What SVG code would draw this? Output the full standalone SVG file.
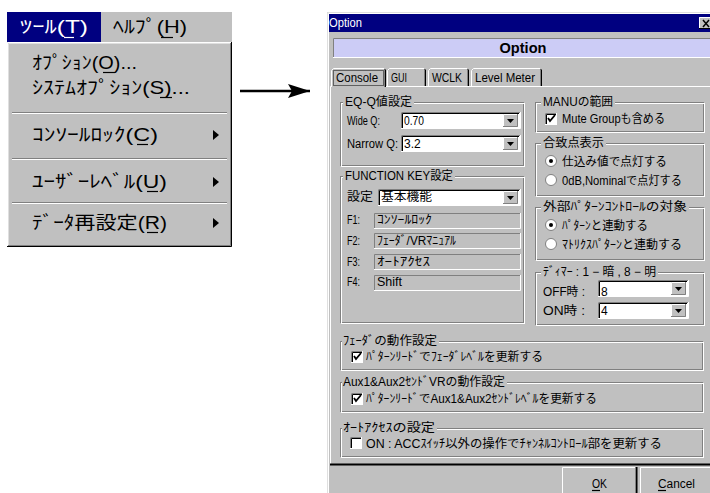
<svg xmlns="http://www.w3.org/2000/svg" width="710" height="493" viewBox="0 0 710 493">
<defs>
<style>
.t{font-family:"Liberation Sans","Noto Sans CJK JP",sans-serif;font-size:12px;fill:#000}
.m{font-family:"Liberation Sans","Noto Sans CJK JP",sans-serif;font-size:18px;fill:#000}
.g{fill:#c0c0c0}
.dk{stroke:#808080;fill:none}
.wh{stroke:#fff;fill:none}
.bk{stroke:#000;fill:none}
.ul{stroke:#000;stroke-width:1.2;fill:none}
</style>
<marker id="ah" markerWidth="24" markerHeight="16" refX="22" refY="7" orient="auto" markerUnits="userSpaceOnUse">
<path d="M0,0 L22,7 L0,14 L4,7 Z" fill="#000"/>
</marker>
</defs>
<rect width="710" height="493" fill="#fff"/>

<g id="menu">
<rect x="7" y="12" width="225" height="30" fill="#c0c0c0"/>
<rect x="7" y="12" width="94" height="30" fill="#000080"/>
<text class="m" x="20" y="33" style="fill:#fff" textLength="68" lengthAdjust="spacingAndGlyphs">ﾂｰﾙ(T)</text>
<path d="M64,37.5 H74" stroke="#fff" stroke-width="1.2"/>
<text class="m" x="113" y="33" textLength="74" lengthAdjust="spacingAndGlyphs">ﾍﾙﾌﾟ(H)</text>
<path d="M161,37.5 H173" class="ul"/>
<rect x="7" y="42" width="225" height="205" fill="#c0c0c0"/>
<path d="M7.5,246 V42.5 H231" class="wh"/>
<path d="M8.5,245 V43.5 H230" stroke="#dfdfdf" fill="none"/>
<path d="M230.5,43 V245.5 H8" class="dk"/>
<path d="M231.5,42 V246.5 H7" class="bk"/>
<text class="m" x="32" y="69" textLength="105" lengthAdjust="spacingAndGlyphs">ｵﾌﾟｼｮﾝ(O)...</text>
<path d="M103,72.5 H115" class="ul"/>
<text class="m" x="32" y="94" textLength="158" lengthAdjust="spacingAndGlyphs">ｼｽﾃﾑｵﾌﾟｼｮﾝ(S)...</text>
<path d="M160,97.5 H172" class="ul"/>
<path d="M12,112.5 H227" class="dk"/><path d="M12,113.5 H227" class="wh"/>
<text class="m" x="32" y="141" textLength="126" lengthAdjust="spacingAndGlyphs">ｺﾝｿｰﾙﾛｯｸ(C)</text>
<path d="M137,144.5 H148" class="ul"/>
<path d="M213,130 L219,135 L213,140 Z" fill="#000"/>
<path d="M12,158.5 H227" class="dk"/><path d="M12,159.5 H227" class="wh"/>
<text class="m" x="32" y="188" textLength="135" lengthAdjust="spacingAndGlyphs">ﾕｰｻﾞｰﾚﾍﾞﾙ(U)</text>
<path d="M147,191.5 H158" class="ul"/>
<path d="M213,177 L219,182 L213,187 Z" fill="#000"/>
<path d="M12,202.5 H227" class="dk"/><path d="M12,203.5 H227" class="wh"/>
<text class="m" x="32" y="229" textLength="135" lengthAdjust="spacingAndGlyphs">ﾃﾞｰﾀ再設定(R)</text>
<path d="M147,232.5 H158" class="ul"/>
<path d="M213,218 L219,223 L213,228 Z" fill="#000"/>
</g>

<g id="connectors">
<path d="M240,91 H310" stroke="#000" stroke-width="2.5" fill="none" marker-end="url(#ah)"/>
</g>

<g id="dialog">
<rect x="327" y="12" width="390" height="490" fill="#c0c0c0"/>
<path d="M327.5,493 V12.5 H710" stroke="#dfdfdf" fill="none"/>
<path d="M328.5,493 V13.5 H710" class="wh"/>
<rect x="329" y="14" width="381" height="18" fill="#000080"/>
<text class="t" x="329" y="27" style="fill:#fff;font-size:13px" textLength="33" lengthAdjust="spacingAndGlyphs">Option</text>
<rect x="699" y="17" width="14" height="12" fill="#c0c0c0"/>
<path d="M699.5,29 V17.5 H712" class="wh"/>
<path d="M699,28.5 H712" class="bk"/>
<path d="M703,20 L709,27 M709,20 L703,27" stroke="#000" stroke-width="1.5"/>

<rect x="333" y="38" width="380" height="19" fill="#ccccf6"/>
<path d="M333.5,57 V38.5 H710" class="dk"/>
<path d="M333,57.5 H710" class="wh"/>
<text class="t" x="523" y="53" text-anchor="middle" style="font-weight:bold;font-size:15px" textLength="47" lengthAdjust="spacingAndGlyphs">Option</text>

<path d="M330.5,465 V86.5 H331 M386,86.5 H710" class="wh"/>
<path d="M330,464.5 H710" stroke="#000" stroke-width="2"/>
<path d="M331.5,87 V70.5 L333.5,68.5 H384" class="wh"/>
<path d="M384.5,69 L385.5,70 V87" class="bk"/>
<path d="M384.5,70 V87" class="dk"/>
<rect x="333.5" y="70.5" width="50" height="15" fill="none" stroke="#000" stroke-dasharray="1,1"/>
<text class="t" x="336" y="82" textLength="42" lengthAdjust="spacingAndGlyphs">Console</text>
<path d="M387.5,86 V70.5 L389.5,68.5 H424" class="wh"/>
<path d="M424.5,69 L425.5,70 V86" class="bk"/><path d="M424.5,70 V86" class="dk"/>
<text class="t" x="391" y="82" textLength="16" lengthAdjust="spacingAndGlyphs">GUI</text>
<path d="M428.5,86 V70.5 L430.5,68.5 H467" class="wh"/>
<path d="M467.5,69 L468.5,70 V86" class="bk"/><path d="M467.5,70 V86" class="dk"/>
<text class="t" x="432" y="82" textLength="30" lengthAdjust="spacingAndGlyphs">WCLK</text>
<path d="M471.5,86 V70.5 L473.5,68.5 H540" class="wh"/>
<path d="M540.5,69 L541.5,70 V86" class="bk"/><path d="M540.5,70 V86" class="dk"/>
<text class="t" x="475" y="82" textLength="60" lengthAdjust="spacingAndGlyphs">Level Meter</text>

<g id="eq">
<rect x="340.5" y="102.5" width="183" height="63" class="dk"/>
<rect x="341.5" y="103.5" width="183" height="63" class="wh"/>
<rect x="343" y="96" width="71" height="12" class="g"/>
<text class="t" x="345" y="106" textLength="67" lengthAdjust="spacingAndGlyphs">EQ-Q値設定</text>
<text class="t" x="347" y="125" textLength="33" lengthAdjust="spacingAndGlyphs">Wide Q:</text>
<rect x="401" y="112" width="119" height="17" fill="#fff"/>
<path d="M401.5,129 V112.5 H520" class="dk"/><path d="M402.5,128 V113.5 H519" class="bk"/>
<path d="M401,128.5 H520.5 V112" class="wh"/>
<rect x="503" y="114" width="15" height="13" class="g"/>
<path d="M503.5,127 V114.5 H518" class="wh"/><path d="M503,126.5 H517.5 V114" class="dk"/>
<path d="M507,119 H514 L510.5,123 Z" fill="#000"/>
<text class="t" x="404" y="125" textLength="20" lengthAdjust="spacingAndGlyphs">0.70</text>
<text class="t" x="347" y="148" textLength="51" lengthAdjust="spacingAndGlyphs">Narrow Q:</text>
<rect x="401" y="135" width="119" height="17" fill="#fff"/>
<path d="M401.5,152 V135.5 H520" class="dk"/><path d="M402.5,151 V136.5 H519" class="bk"/>
<path d="M401,151.5 H520.5 V135" class="wh"/>
<rect x="503" y="137" width="15" height="13" class="g"/>
<path d="M503.5,150 V137.5 H518" class="wh"/><path d="M503,149.5 H517.5 V137" class="dk"/>
<path d="M507,142 H514 L510.5,146 Z" fill="#000"/>
<text class="t" x="404" y="148">3.2</text>
</g>

<g id="fkey">
<rect x="340.5" y="176.5" width="183" height="146" class="dk"/>
<rect x="341.5" y="177.5" width="183" height="146" class="wh"/>
<rect x="343" y="170" width="112" height="12" class="g"/>
<text class="t" x="345" y="180" textLength="108" lengthAdjust="spacingAndGlyphs">FUNCTION KEY設定</text>
<text class="t" x="347" y="201" textLength="26" lengthAdjust="spacingAndGlyphs">設定</text>
<rect x="378" y="189" width="142" height="17" fill="#fff"/>
<path d="M378.5,206 V189.5 H520" class="dk"/><path d="M379.5,205 V190.5 H519" class="bk"/>
<path d="M378,205.5 H520.5 V189" class="wh"/>
<rect x="503" y="191" width="15" height="13" class="g"/>
<path d="M503.5,204 V191.5 H518" class="wh"/><path d="M503,203.5 H517.5 V191" class="dk"/>
<path d="M507,196 H514 L510.5,200 Z" fill="#000"/>
<text class="t" x="381" y="201" textLength="51" lengthAdjust="spacingAndGlyphs">基本機能</text>
<text class="t" x="347" y="224" textLength="13" lengthAdjust="spacingAndGlyphs">F1:</text>
<path d="M374.5,229 V213.5 H520" class="dk"/><path d="M374,228.5 H520.5 V213" class="wh"/>
<text class="t" x="377" y="224" textLength="55" lengthAdjust="spacingAndGlyphs">ｺﾝｿｰﾙﾛｯｸ</text>
<text class="t" x="347" y="245" textLength="13" lengthAdjust="spacingAndGlyphs">F2:</text>
<path d="M374.5,249 V233.5 H520" class="dk"/><path d="M374,248.5 H520.5 V233" class="wh"/>
<text class="t" x="377" y="245" textLength="79" lengthAdjust="spacingAndGlyphs">ﾌｪｰﾀﾞ/VRﾏﾆｭｱﾙ</text>
<text class="t" x="347" y="266" textLength="13" lengthAdjust="spacingAndGlyphs">F3:</text>
<path d="M374.5,270 V254.5 H520" class="dk"/><path d="M374,269.5 H520.5 V254" class="wh"/>
<text class="t" x="377" y="266" textLength="53" lengthAdjust="spacingAndGlyphs">ｵｰﾄｱｸｾｽ</text>
<text class="t" x="347" y="286" textLength="13" lengthAdjust="spacingAndGlyphs">F4:</text>
<path d="M374.5,291 V275.5 H520" class="dk"/><path d="M374,290.5 H520.5 V275" class="wh"/>
<text class="t" x="377" y="286" textLength="25" lengthAdjust="spacingAndGlyphs">Shift</text>
</g>

<g id="manu">
<rect x="535.5" y="102.5" width="168" height="29" class="dk"/>
<rect x="536.5" y="103.5" width="168" height="29" class="wh"/>
<rect x="541" y="96" width="74" height="12" class="g"/>
<text class="t" x="543" y="106" textLength="70" lengthAdjust="spacingAndGlyphs">MANUの範囲</text>
<rect x="545" y="113" width="12" height="12" fill="#fff"/>
<path d="M545.5,125 V113.5 H557" class="dk"/><path d="M546.5,124 V114.5 H556" class="bk"/><path d="M545,124.5 H556.5 V113" class="wh"/>
<path d="M548,118 L550,121 L555,115" stroke="#000" stroke-width="1.8" fill="none"/>
<text class="t" x="562" y="123" textLength="103" lengthAdjust="spacingAndGlyphs">Mute Groupも含める</text>
</g>

<g id="gatchi">
<rect x="535.5" y="143.5" width="168" height="52" class="dk"/>
<rect x="536.5" y="144.5" width="168" height="52" class="wh"/>
<rect x="541" y="137" width="65" height="12" class="g"/>
<text class="t" x="543" y="147" textLength="61" lengthAdjust="spacingAndGlyphs">合致点表示</text>
<circle cx="551" cy="161" r="5.5" fill="#fff" stroke="#808080"/>
<circle cx="551" cy="161" r="2" fill="#000"/>
<text class="t" x="562" y="166" textLength="105" lengthAdjust="spacingAndGlyphs">仕込み値で点灯する</text>
<circle cx="551" cy="180" r="5.5" fill="#fff" stroke="#808080"/>
<text class="t" x="562" y="185" textLength="120" lengthAdjust="spacingAndGlyphs">0dB,Nominalで点灯する</text>
</g>

<g id="gaibu">
<rect x="535.5" y="207.5" width="168" height="52" class="dk"/>
<rect x="536.5" y="208.5" width="168" height="52" class="wh"/>
<rect x="541" y="201" width="148" height="12" class="g"/>
<text class="t" x="543" y="211" textLength="144" lengthAdjust="spacingAndGlyphs">外部ﾊﾟﾀｰﾝｺﾝﾄﾛｰﾙの対象</text>
<circle cx="551" cy="225" r="5.5" fill="#fff" stroke="#808080"/>
<circle cx="551" cy="225" r="2" fill="#000"/>
<text class="t" x="562" y="230" textLength="86" lengthAdjust="spacingAndGlyphs">ﾊﾟﾀｰﾝと連動する</text>
<circle cx="551" cy="244" r="5.5" fill="#fff" stroke="#808080"/>
<text class="t" x="562" y="249" textLength="120" lengthAdjust="spacingAndGlyphs">ﾏﾄﾘｸｽﾊﾟﾀｰﾝと連動する</text>
</g>

<g id="dimmer">
<rect x="535.5" y="272.5" width="168" height="52" class="dk"/>
<rect x="536.5" y="273.5" width="168" height="52" class="wh"/>
<rect x="541" y="266" width="117" height="12" class="g"/>
<text class="t" x="543" y="276" textLength="113" lengthAdjust="spacingAndGlyphs">ﾃﾞｨﾏｰ : 1 − 暗 , 8 − 明</text>
<text class="t" x="543" y="296" textLength="42" lengthAdjust="spacingAndGlyphs">OFF時 :</text>
<rect x="598" y="280" width="90" height="17" fill="#fff"/>
<path d="M598.5,297 V280.5 H688" class="dk"/><path d="M599.5,296 V281.5 H687" class="bk"/>
<path d="M598,296.5 H688.5 V280" class="wh"/>
<rect x="671" y="282" width="15" height="13" class="g"/>
<path d="M671.5,295 V282.5 H686" class="wh"/><path d="M671,294.5 H685.5 V282" class="dk"/>
<path d="M675,287 H682 L678.5,291 Z" fill="#000"/>
<text class="t" x="601" y="296">8</text>
<text class="t" x="543" y="315" textLength="42" lengthAdjust="spacingAndGlyphs">ON時 :</text>
<rect x="598" y="302" width="90" height="17" fill="#fff"/>
<path d="M598.5,319 V302.5 H688" class="dk"/><path d="M599.5,318 V303.5 H687" class="bk"/>
<path d="M598,318.5 H688.5 V302" class="wh"/>
<rect x="671" y="304" width="15" height="13" class="g"/>
<path d="M671.5,317 V304.5 H686" class="wh"/><path d="M671,316.5 H685.5 V304" class="dk"/>
<path d="M675,309 H682 L678.5,313 Z" fill="#000"/>
<text class="t" x="601" y="315">4</text>
</g>

<g id="fader">
<rect x="340.5" y="341.5" width="362" height="28" class="dk"/>
<rect x="341.5" y="342.5" width="362" height="28" class="wh"/>
<rect x="342" y="335" width="97" height="12" class="g"/>
<text class="t" x="343" y="345" textLength="94" lengthAdjust="spacingAndGlyphs">ﾌｪｰﾀﾞの動作設定</text>
<rect x="351" y="351" width="12" height="12" fill="#fff"/>
<path d="M351.5,363 V351.5 H363" class="dk"/><path d="M352.5,362 V352.5 H362" class="bk"/><path d="M351,362.5 H362.5 V351" class="wh"/>
<path d="M354,356 L356,359 L361,353" stroke="#000" stroke-width="1.8" fill="none"/>
<text class="t" x="366" y="361" textLength="177" lengthAdjust="spacingAndGlyphs">ﾊﾟﾀｰﾝﾘｰﾄﾞでﾌｪｰﾀﾞﾚﾍﾞﾙを更新する</text>
</g>

<g id="aux">
<rect x="340.5" y="382.5" width="362" height="29" class="dk"/>
<rect x="341.5" y="383.5" width="362" height="29" class="wh"/>
<rect x="342" y="376" width="165" height="12" class="g"/>
<text class="t" x="343" y="386" textLength="162" lengthAdjust="spacingAndGlyphs">Aux1&amp;Aux2ｾﾝﾄﾞVRの動作設定</text>
<rect x="351" y="393" width="12" height="12" fill="#fff"/>
<path d="M351.5,405 V393.5 H363" class="dk"/><path d="M352.5,404 V394.5 H362" class="bk"/><path d="M351,404.5 H362.5 V393" class="wh"/>
<path d="M354,398 L356,401 L361,395" stroke="#000" stroke-width="1.8" fill="none"/>
<text class="t" x="366" y="403" textLength="231" lengthAdjust="spacingAndGlyphs">ﾊﾟﾀｰﾝﾘｰﾄﾞでAux1&amp;Aux2ｾﾝﾄﾞﾚﾍﾞﾙを更新する</text>
</g>

<g id="autoaccess">
<rect x="340.5" y="428.5" width="362" height="28" class="dk"/>
<rect x="341.5" y="429.5" width="362" height="28" class="wh"/>
<rect x="342" y="422" width="95" height="12" class="g"/>
<text class="t" x="343" y="432" textLength="92" lengthAdjust="spacingAndGlyphs">ｵｰﾄｱｸｾｽの設定</text>
<rect x="350" y="437" width="12" height="12" fill="#fff"/>
<path d="M350.5,449 V437.5 H362" class="dk"/><path d="M351.5,448 V438.5 H361" class="bk"/><path d="M350,448.5 H361.5 V437" class="wh"/>
<text class="t" x="366" y="448" textLength="296" lengthAdjust="spacingAndGlyphs">ON : ACCｽｲｯﾁ以外の操作でﾁｬﾝﾈﾙｺﾝﾄﾛｰﾙ部を更新する</text>
</g>

<g id="ok">
<path d="M562.5,493 V467.5 H636" class="wh"/>
<path d="M636.5,467 V493" class="bk" stroke-width="2"/>
<path d="M635.5,468 V493" class="dk"/>
<text class="t" x="592" y="488" textLength="15" lengthAdjust="spacingAndGlyphs">OK</text>
<path d="M592,490.5 H600" class="ul"/>
</g>
<g id="cancel">
<path d="M640.5,493 V467.5 H710" class="wh"/>
<text class="t" x="658" y="488" textLength="37" lengthAdjust="spacingAndGlyphs">Cancel</text>
<path d="M658,490.5 H666" class="ul"/>
</g>
</g>
</svg>
